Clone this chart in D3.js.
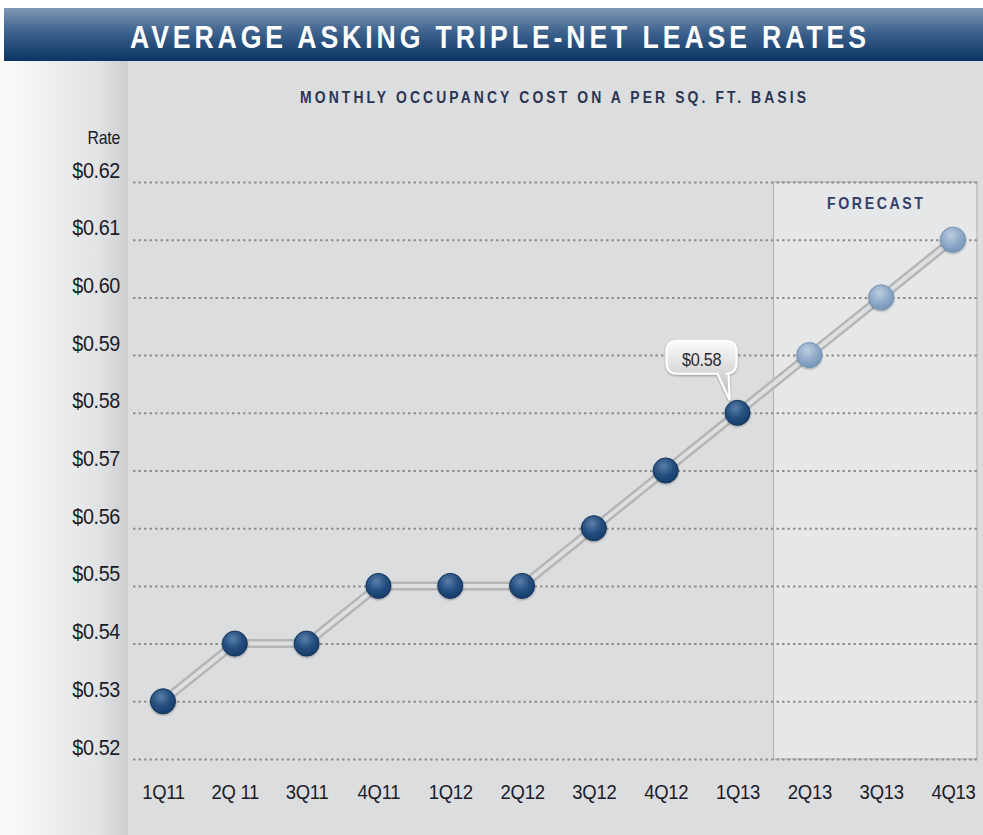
<!DOCTYPE html>
<html>
<head>
<meta charset="utf-8">
<script src="https://cdn.jsdelivr.net/npm/d3@7"></script>
<style>
  html, body { margin: 0; padding: 0; background: #ffffff; }
  svg { display: block; }
  text { font-family: "Liberation Sans", Arial, sans-serif; }
</style>
</head>
<body>
<div id="chart"></div>
<script>
// Quarterly average asking triple-net lease rates ($ per sq. ft. per month)
const quarters = ["1Q11", "2Q 11", "3Q11", "4Q11", "1Q12", "2Q12", "3Q12", "4Q12", "1Q13", "2Q13", "3Q13", "4Q13"];
const rates = [0.53, 0.54, 0.54, 0.55, 0.55, 0.55, 0.56, 0.57, 0.58, 0.59, 0.60, 0.61];
const forecastFrom = "2Q13";
const yTicks = [0.52, 0.53, 0.54, 0.55, 0.56, 0.57, 0.58, 0.59, 0.60, 0.61, 0.62];
const calloutQuarter = "1Q13";

const W = 983, H = 835;
const svg = d3.select("#chart").append("svg").attr("width", W).attr("height", H);
const defs = svg.append("defs");

// Narrow type: horizontally condensed glyphs placed at (tx, ty)
function condensed(sel, tx, ty, sx) {
  sel.attr("x", 0).attr("y", 0).attr("dy", null)
    .attr("transform", `translate(${tx},${ty}) scale(${sx},1)`);
  return sel;
}

// Header band gradient
const hg = defs.append("linearGradient").attr("id", "hdr").attr("x1", 0).attr("y1", 0).attr("x2", 0).attr("y2", 1);
hg.append("stop").attr("offset", "0%").attr("stop-color", "#7f98b4");
hg.append("stop").attr("offset", "45%").attr("stop-color", "#3d628d");
hg.append("stop").attr("offset", "100%").attr("stop-color", "#0b3566");

// Left gutter gradient
const lg = defs.append("linearGradient").attr("id", "gutter").attr("x1", 0).attr("y1", 0).attr("x2", 1).attr("y2", 0);
lg.append("stop").attr("offset", "0%").attr("stop-color", "#fbfbfb");
lg.append("stop").attr("offset", "75%").attr("stop-color", "#e3e4e5");
lg.append("stop").attr("offset", "100%").attr("stop-color", "#cdced0");

// Marker gradients
const dg = defs.append("radialGradient").attr("id", "dotDark").attr("cx", "42%").attr("cy", "32%").attr("r", "70%");
dg.append("stop").attr("offset", "0%").attr("stop-color", "#5a7fa9");
dg.append("stop").attr("offset", "55%").attr("stop-color", "#244e7f");
dg.append("stop").attr("offset", "100%").attr("stop-color", "#153b67");
const fg = defs.append("radialGradient").attr("id", "dotLight").attr("cx", "42%").attr("cy", "32%").attr("r", "70%");
fg.append("stop").attr("offset", "0%").attr("stop-color", "#bccde0");
fg.append("stop").attr("offset", "55%").attr("stop-color", "#91acca");
fg.append("stop").attr("offset", "100%").attr("stop-color", "#7293b8");

// Callout gradient
const cg = defs.append("linearGradient").attr("id", "callout").attr("x1", 0).attr("y1", 0).attr("x2", 0).attr("y2", 1);
cg.append("stop").attr("offset", "0%").attr("stop-color", "#fbfbfb");
cg.append("stop").attr("offset", "100%").attr("stop-color", "#b9babc");

const shadow = defs.append("filter").attr("id", "shadow").attr("x", "-20%").attr("y", "-20%").attr("width", "140%").attr("height", "160%");
shadow.append("feDropShadow").attr("dx", 0).attr("dy", 1).attr("stdDeviation", 1.2).attr("flood-color", "#000").attr("flood-opacity", 0.35);

// Backgrounds
svg.append("rect").attr("x", 0).attr("y", 0).attr("width", W).attr("height", H).attr("fill", "#ffffff");
svg.append("rect").attr("x", 0).attr("y", 61).attr("width", W).attr("height", H - 61).attr("fill", "#dcdddf");
svg.append("rect").attr("x", 0).attr("y", 61).attr("width", 128).attr("height", H - 61).attr("fill", "url(#gutter)");
svg.append("rect").attr("x", 4).attr("y", 8).attr("width", W - 4).attr("height", 53).attr("fill", "url(#hdr)");

// Title and subtitle
condensed(svg.append("text")
  .attr("text-anchor", "middle").attr("fill", "#ffffff").attr("font-weight", "bold").attr("font-size", 31)
  .attr("textLength", 736 / 0.86).attr("lengthAdjust", "spacing")
  .text("AVERAGE ASKING TRIPLE-NET LEASE RATES"), 498, 48, 0.86);

condensed(svg.append("text")
  .attr("text-anchor", "middle").attr("fill", "#2b3552").attr("font-weight", "bold").attr("font-size", 17)
  .attr("textLength", 506 / 0.82).attr("lengthAdjust", "spacing")
  .text("MONTHLY OCCUPANCY COST ON A PER SQ. FT. BASIS"), 553, 103, 0.82);

// Scales
const x = d3.scalePoint().domain(quarters).range([163, 953]);
const y = d3.scaleLinear().domain([0.52, 0.62]).range([759, 182]);
const step = x.step();
const gridLeft = x(quarters[0]) - 30;
const gridRight = x(quarters[quarters.length - 1]) + 24;

// Forecast panel
const fx0 = x(forecastFrom) - step / 2;
svg.append("rect")
  .attr("x", fx0).attr("y", y(0.62))
  .attr("width", gridRight - fx0).attr("height", y(0.52) - y(0.62))
  .attr("fill", "#e6e7e9").attr("stroke", "#b3b4b6").attr("stroke-width", 1.2);
condensed(svg.append("text")
  .attr("text-anchor", "middle").attr("fill", "#34406a").attr("font-size", 16.5).attr("font-weight", "bold")
  .attr("textLength", 96 / 0.86).attr("lengthAdjust", "spacing")
  .text("FORECAST"), 875, 209, 0.86);

// Y gridlines and labels
const yAxis = d3.axisLeft(y).tickValues(yTicks).tickSize(-(gridRight - gridLeft)).tickFormat(d => "$" + d.toFixed(2));
const yg = svg.append("g").attr("transform", `translate(${gridLeft},0)`).call(yAxis);
yg.select(".domain").remove();
yg.selectAll(".tick line").attr("stroke", "#8f9092").attr("stroke-width", 2).attr("stroke-dasharray", "2.5,3");
yg.selectAll(".tick text")
  .attr("text-anchor", "end").attr("font-size", 22).attr("fill", "#1b1b28").attr("letter-spacing", -0.4)
  .call(s => condensed(s, 120 - gridLeft, -5, 0.9));

condensed(svg.append("text")
  .attr("text-anchor", "end").attr("font-size", 18).attr("fill", "#1b1b28").attr("letter-spacing", -0.3)
  .text("Rate"), 120, 144, 0.88);

// X axis labels
const xAxis = d3.axisBottom(x).tickSize(0);
const xg = svg.append("g").attr("transform", `translate(0,${y(0.52)})`).call(xAxis);
xg.select(".domain").remove();
xg.selectAll(".tick text")
  .attr("text-anchor", "middle").attr("font-size", 21).attr("fill", "#1b1b28").attr("letter-spacing", -0.3)
  .call(s => condensed(s, 0, 40, 0.88));

// Connector line (double rail look)
const data = quarters.map((q, i) => ({ q, v: rates[i], forecast: i >= quarters.indexOf(forecastFrom) }));
const line = d3.line().x(d => x(d.q)).y(d => y(d.v));
svg.append("path").datum(data).attr("d", line)
  .attr("fill", "none").attr("stroke", "#b4b5b7").attr("stroke-width", 9).attr("stroke-linejoin", "round");
svg.append("path").datum(data).attr("d", line)
  .attr("fill", "none").attr("stroke", "#dedfe1").attr("stroke-width", 4).attr("stroke-linejoin", "round");

// Markers
svg.append("g").selectAll("circle").data(data).join("circle")
  .attr("cx", d => x(d.q)).attr("cy", d => y(d.v)).attr("r", 12.5)
  .attr("fill", d => d.forecast ? "url(#dotLight)" : "url(#dotDark)")
  .attr("stroke", d => d.forecast ? "#7191b5" : "#15375f").attr("stroke-width", 1)
  .attr("filter", "url(#shadow)");

// Value callout
const cd = data.find(d => d.q === calloutQuarter);
const px = x(cd.q), py = y(cd.v);
const bx0 = px - 71, bx1 = px - 1, by0 = py - 72, by1 = py - 39;
const r = 11;
const tailL = px - 20, tailR = px - 9, tipX = px - 8, tipY = py - 13;
const callPath = [
  `M${bx0 + r},${by0}`,
  `L${bx1 - r},${by0}`,
  `Q${bx1},${by0} ${bx1},${by0 + r}`,
  `L${bx1},${by1 - r}`,
  `Q${bx1},${by1} ${bx1 - r},${by1}`,
  `L${tailR},${by1}`,
  `L${tipX},${tipY}`,
  `L${tailL},${by1}`,
  `L${bx0 + r},${by1}`,
  `Q${bx0},${by1} ${bx0},${by1 - r}`,
  `L${bx0},${by0 + r}`,
  `Q${bx0},${by0} ${bx0 + r},${by0}`,
  "Z"
].join(" ");
svg.append("path").attr("d", callPath)
  .attr("fill", "url(#callout)").attr("stroke", "#ffffff").attr("stroke-width", 2)
  .attr("filter", "url(#shadow)");
condensed(svg.append("text")
  .attr("text-anchor", "middle").attr("font-size", 18).attr("fill", "#2a2a36").attr("letter-spacing", -0.3)
  .text("$" + cd.v.toFixed(2)), (bx0 + bx1) / 2, by1 - 8, 0.9);
</script>
</body>
</html>
